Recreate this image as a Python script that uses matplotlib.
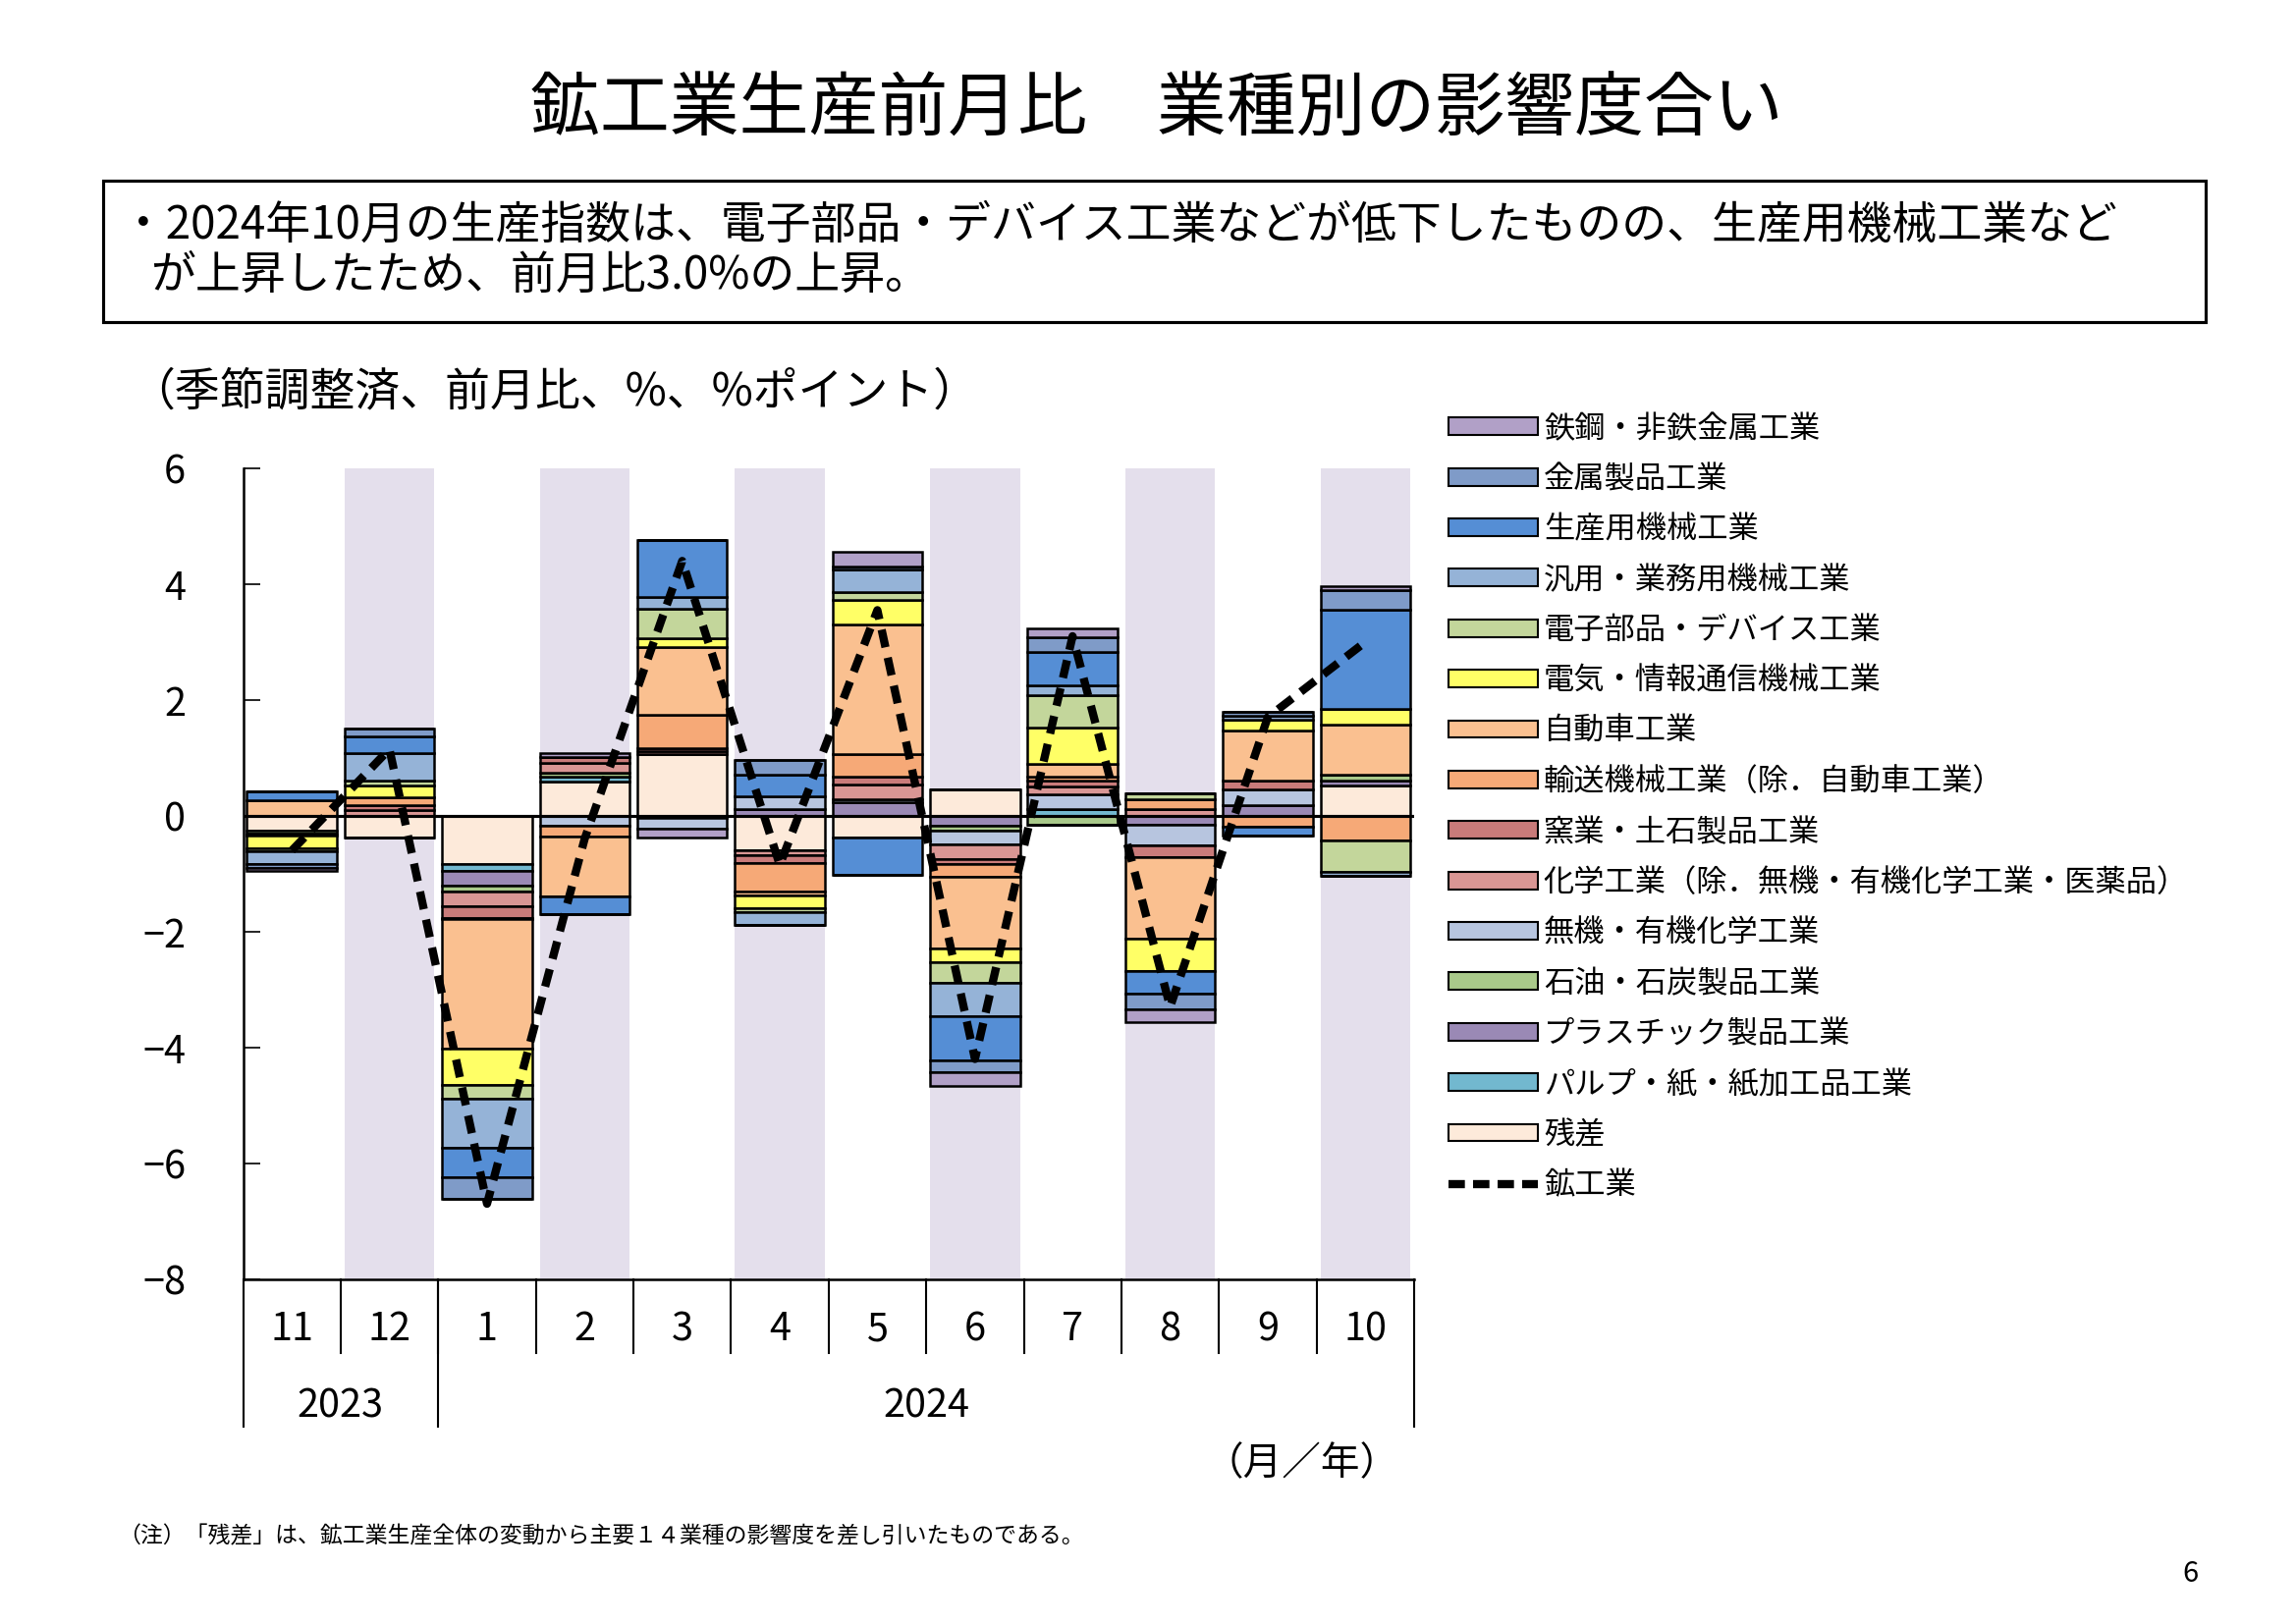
import matplotlib.pyplot as plt
import numpy as np
from matplotlib.patches import Rectangle
from matplotlib.lines import Line2D

plt.rcParams['font.family'] = 'Noto Sans CJK JP'
plt.rcParams['axes.unicode_minus'] = True

months = ['11', '12', '1', '2', '3', '4', '5', '6', '7', '8', '9', '10']
years = ['2023', '2024']

# series listed in legend order (top to bottom); months Nov-2023 .. Oct-2024
names = ['鉄鋼・非鉄金属工業', '金属製品工業', '生産用機械工業', '汎用・業務用機械工業',
         '電子部品・デバイス工業', '電気・情報通信機械工業', '自動車工業',
         '輸送機械工業（除．自動車工業）', '窯業・土石製品工業',
         '化学工業（除．無機・有機化学工業・医薬品）', '無機・有機化学工業',
         '石油・石炭製品工業', 'プラスチック製品工業', 'パルプ・紙・紙加工品工業', '残差']
colors = ['#B1A0C7', '#7F9BC8', '#558ED5', '#95B3D7', '#C3D69B', '#FFFF66', '#FAC090',
          '#F6A977', '#C97B7A', '#D99694', '#B7C5DF', '#A9C98A', '#9A89B5', '#72B8CF', '#FDEADA']

tekko   = [-0.05, 0.00, 0.00, 0.06, -0.15, 0.00, 0.26, -0.23, 0.14, -0.22, 0.00, 0.07]
kinzoku = [-0.08, 0.13, -0.37, 0.00, 0.00, 0.26, 0.05, -0.20, 0.26, -0.28, 0.07, 0.35]
seisan  = [0.16, 0.28, -0.52, -0.30, 0.98, 0.37, -0.65, -0.76, 0.58, -0.39, -0.15, 1.71]
hanyo   = [-0.22, 0.49, -0.85, 0.00, 0.20, -0.23, 0.38, -0.59, 0.16, 0.00, 0.07, -0.07]
denshi  = [-0.04, 0.08, -0.23, 0.00, 0.51, -0.07, 0.14, -0.35, 0.57, 0.10, 0.00, -0.54]
denki   = [-0.22, 0.20, -0.63, 0.00, 0.16, -0.22, 0.43, -0.23, 0.63, -0.55, 0.19, 0.26]
jidosha = [0.26, 0.00, -2.23, -1.03, 1.16, -0.06, 2.24, -1.24, 0.22, -1.41, 0.87, 0.87]
yuso    = [0.00, 0.13, -0.03, -0.19, 0.58, -0.49, 0.39, -0.22, 0.07, 0.16, -0.19, -0.43]
yogyo   = [0.00, 0.09, -0.20, 0.10, 0.05, -0.14, 0.13, -0.09, 0.10, -0.20, 0.15, 0.00]
kagaku  = [0.00, 0.10, -0.26, 0.17, 0.05, -0.08, 0.26, -0.26, 0.13, 0.12, 0.00, 0.00]
muki    = [-0.05, 0.00, 0.00, -0.17, -0.19, 0.23, 0.04, -0.23, 0.26, -0.37, 0.27, 0.00]
sekiyu  = [-0.04, 0.00, -0.09, 0.07, -0.04, 0.00, 0.00, -0.09, -0.15, 0.00, 0.00, 0.10]
plastic = [0.00, 0.00, -0.26, 0.00, 0.00, 0.11, 0.24, -0.17, 0.00, -0.15, 0.18, 0.08]
pulp    = [0.00, 0.00, -0.11, 0.09, 0.00, 0.00, 0.00, 0.00, 0.11, 0.00, 0.00, 0.00]
zansa   = [-0.26, -0.37, -0.84, 0.59, 1.07, -0.60, -0.37, 0.46, 0.00, 0.00, 0.00, 0.53]
total   = [-0.6, 1.15, -6.7, -0.4, 4.4, -0.85, 3.55, -4.2, 3.1, -3.3, 1.7, 3.0]

series = [tekko, kinzoku, seisan, hanyo, denshi, denki, jidosha, yuso, yogyo,
          kagaku, muki, sekiyu, plastic, pulp, zansa]

W, H = 1559, 1102
fig = plt.figure(figsize=(15.59, 11.03), dpi=150)
ax = fig.add_axes([165 / W, 1 - 868 / H, 795 / W, 550 / H])

x = np.arange(len(months))
bw = 0.92
for i in range(1, len(months), 2):
    ax.axvspan(i - bw / 2, i + bw / 2, color='#E4DFEC', zorder=0, lw=0)

# stack from zero outwards: 残差 first, 鉄鋼 last
pos = np.zeros(len(months))
neg = np.zeros(len(months))
for s, c in zip(series[::-1], colors[::-1]):
    v = np.array(s)
    p = np.where(v > 0, v, 0)
    n = np.where(v < 0, v, 0)
    ax.bar(x, p, bw, bottom=pos, color=c, edgecolor='black', lw=1.2, zorder=2)
    ax.bar(x, n, bw, bottom=neg, color=c, edgecolor='black', lw=1.2, zorder=2)
    pos += p
    neg += n

ax.axhline(0, color='black', lw=1.5, zorder=3)
ax.plot(x, total, color='black', ls=(0, (2.2, 1.3)), lw=4, zorder=4)

ax.set_xlim(-0.5, 11.5)
ax.set_ylim(-8, 6)
ax.set_yticks(range(-8, 7, 2))
ax.tick_params(axis='y', direction='in', length=8, labelsize=19, pad=28)
ax.set_xticks([])
for sp in ['top', 'right', 'bottom']:
    ax.spines[sp].set_visible(False)
ax.spines['left'].set_linewidth(1.2)

# category table below the axes
tr = ax.get_xaxis_transform()
ax.add_line(Line2D([-0.5, 11.5], [0, 0], transform=tr, color='black', lw=1.2, clip_on=False))
for i in range(1, 12):
    ax.add_line(Line2D([i - 0.5, i - 0.5], [0, -50 / 550], transform=tr, color='black', lw=1.0, clip_on=False))
for xb in [-0.5, 1.5, 11.5]:
    ax.add_line(Line2D([xb, xb], [0, -100 / 550], transform=tr, color='black', lw=1.0, clip_on=False))
for i, m in enumerate(months):
    ax.text(i, -34 / 550, m, transform=tr, ha='center', va='center', fontsize=19)
ax.text(0.5, -86 / 550, years[0], transform=tr, ha='center', va='center', fontsize=19)
ax.text(6.5, -86 / 550, years[1], transform=tr, ha='center', va='center', fontsize=19)
fig.text(950 / W, 1 - 993 / H, '（月／年）', ha='right', va='center', fontsize=19)

# legend
handles = [Rectangle((0, 0), 1, 1, facecolor=c, edgecolor='black', lw=1) for c in colors]
handles.append(Line2D([0], [0], color='black', ls=(0, (2, 1)), lw=4))
fig.legend(handles, names + ['鉱工業'], loc='upper left', bbox_to_anchor=(975 / W, 1 - 272 / H),
           frameon=False, fontsize=15, handlelength=2.9, handleheight=0.5,
           labelspacing=0.62, handletextpad=0.2, borderaxespad=0)

fig.text(785 / W, 1 - 75 / H, '鉱工業生産前月比　業種別の影響度合い', ha='center', va='center', fontsize=34)
fig.patches.append(Rectangle((70 / W, 1 - 219 / H), 1427 / W, 96 / H, transform=fig.transFigure,
                             fill=False, edgecolor='black', lw=1.5))
fig.text(82 / W, 1 - 153 / H, '・2024年10月の生産指数は、電子部品・デバイス工業などが低下したものの、生産用機械工業など',
         ha='left', va='center', fontsize=22)
fig.text(102 / W, 1 - 187 / H, 'が上昇したため、前月比3.0%の上昇。', ha='left', va='center', fontsize=22)
fig.text(88 / W, 1 - 266 / H, '（季節調整済、前月比、%、%ポイント）', ha='left', va='center', fontsize=22)
fig.text(80 / W, 1 - 1042 / H, '（注）「残差」は、鉱工業生産全体の変動から主要１４業種の影響度を差し引いたものである。',
         ha='left', va='center', fontsize=11)
fig.text(1492 / W, 1 - 1068 / H, '6', ha='right', va='center', fontsize=14)

fig.savefig('out.png', dpi=150)
